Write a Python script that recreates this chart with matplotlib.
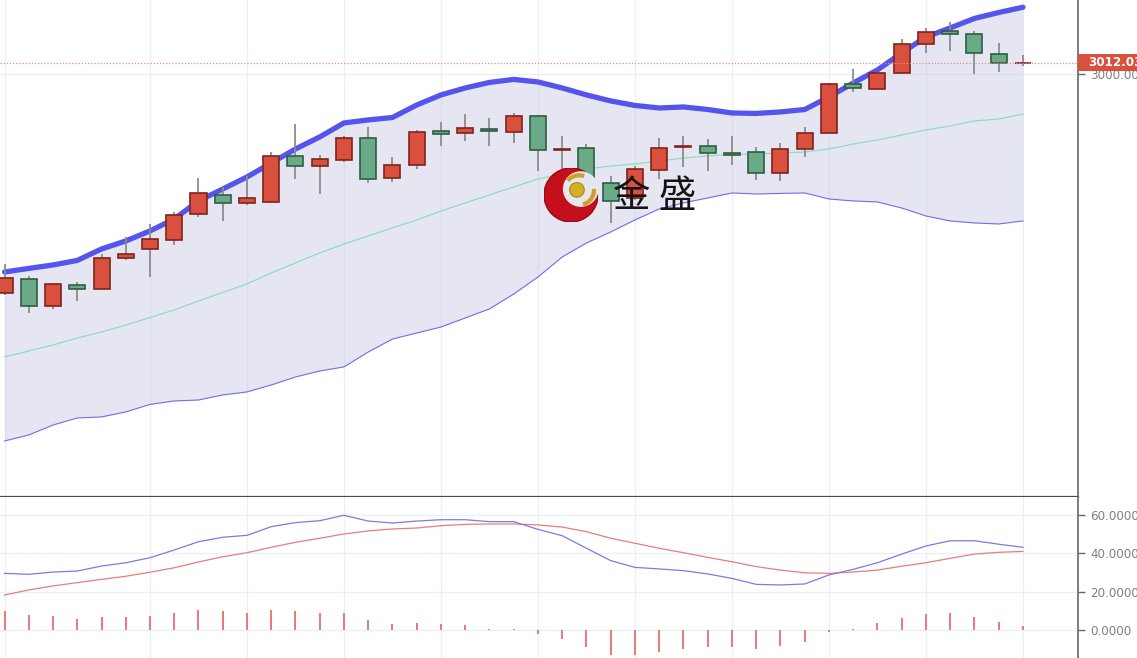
# %% Import packages
import matplotlib.pyplot as plt
import matplotlib.patches as mpatches
import matplotlib.transforms as mtransforms
import numpy as np

plt.rcParams['font.family'] = ['DejaVu Sans']

# %% Data (index = trading day)
opens = [2766.7, 2781.6, 2753.5, 2775.2, 2771.2, 2804.5, 2813.8, 2823.4, 2850.7, 2870.9,
         2862.8, 2864.1, 2912.8, 2902.1, 2908.5, 2931.6, 2889.7, 2903.2, 2939.4, 2936.9,
         2941.5, 2938.0, 2955.3, 2919.1, 2921.6, 2883.7, 2868.1, 2897.9, 2921.8, 2923.7,
         2916.0, 2917.0, 2894.4, 2920.2, 2936.9, 2989.7, 2983.7, 3000.8, 3032.2, 3045.4,
         3042.2, 3021.0, 3011.6]
highs = [2797.8, 2785.4, 2777.6, 2778.4, 2808.5, 2826.6, 2840.1, 2853.5, 2889.0, 2879.5,
         2891.5, 2917.3, 2946.5, 2913.8, 2934.0, 2943.9, 2911.4, 2940.4, 2949.2, 2957.4,
         2952.9, 2958.2, 2956.4, 2934.0, 2925.2, 2891.5, 2902.1, 2931.9, 2934.0, 2930.8,
         2934.0, 2922.7, 2926.3, 2943.9, 2990.4, 3005.6, 3002.5, 3036.9, 3049.3, 3055.0,
         3045.8, 3032.7, 3020.2]
lows = [2764.9, 2745.4, 2749.6, 2758.8, 2770.2, 2802.1, 2784.3, 2818.1, 2848.2, 2843.6,
        2860.6, 2863.1, 2888.3, 2872.0, 2906.7, 2883.7, 2885.4, 2898.6, 2923.4, 2928.7,
        2923.4, 2926.3, 2896.8, 2898.6, 2876.6, 2841.2, 2865.9, 2888.6, 2901.4, 2897.1,
        2903.2, 2887.2, 2886.2, 2912.0, 2936.7, 2981.2, 2983.3, 3000.0, 3022.0, 3024.8,
        3000.0, 3002.5, 3008.5]
closes = [2782.6, 2753.2, 2776.2, 2771.2, 2803.9, 2808.5, 2824.1, 2850.0, 2873.1, 2863.1,
          2868.1, 2912.8, 2902.1, 2909.2, 2931.6, 2888.3, 2903.5, 2938.3, 2935.8, 2942.9,
          2939.0, 2955.3, 2918.8, 2920.2, 2883.0, 2865.2, 2898.9, 2921.6, 2922.9, 2915.6,
          2913.5, 2894.4, 2920.2, 2937.2, 2989.4, 2985.1, 3000.8, 3032.2, 3044.4, 3042.2,
          3022.0, 3012.0, 3012.03]

boll_upper = [2789.3, 2793.1, 2796.8, 2801.6, 2813.8, 2822.3, 2833.0, 2845.7, 2864.9, 2877.6,
              2890.4, 2905.3, 2920.2, 2933.0, 2947.9, 2951.1, 2953.7, 2967.0, 2977.7, 2985.1,
              2991.0, 2994.2, 2991.5, 2985.1, 2977.7, 2971.3, 2966.5, 2963.8, 2964.9, 2962.2,
              2958.5, 2958.0, 2959.6, 2962.2, 2975.5, 2990.4, 3004.3, 3022.4, 3039.4, 3049.0,
              3059.1, 3065.4, 3071.0]
boll_mid = [2698.9, 2705.3, 2711.7, 2719.1, 2725.5, 2732.9, 2740.9, 2748.9, 2758.5, 2767.5,
            2776.6, 2788.3, 2798.9, 2809.6, 2819.1, 2827.6, 2836.2, 2844.7, 2854.2, 2862.8,
            2871.3, 2879.8, 2888.3, 2893.6, 2898.9, 2902.1, 2904.2, 2907.4, 2910.6, 2912.8,
            2914.4, 2914.9, 2916.0, 2917.0, 2920.2, 2925.5, 2929.8, 2935.1, 2940.4, 2944.7,
            2950.0, 2952.1, 2957.4]
boll_lower = [2609.5, 2615.9, 2626.5, 2634.0, 2635.1, 2640.4, 2648.4, 2652.1, 2653.1, 2658.5,
              2661.7, 2669.1, 2677.6, 2684.0, 2688.3, 2704.2, 2718.0, 2724.4, 2730.8, 2740.4,
              2750.0, 2765.9, 2784.0, 2805.3, 2820.2, 2831.9, 2844.7, 2856.4, 2862.8, 2868.1,
              2873.4, 2872.3, 2872.9, 2873.4, 2867.0, 2864.9, 2863.8, 2857.4, 2848.9, 2843.6,
              2841.5, 2840.4, 2843.6]

# lower panel indicator
ind_fast = [29.5, 29.0, 30.2, 30.7, 33.3, 35.0, 37.6, 41.6, 45.9, 48.2,
            49.2, 53.7, 55.8, 56.8, 59.6, 56.6, 55.6, 56.6, 57.3, 57.3,
            56.3, 56.3, 52.3, 49.0, 42.5, 36.1, 32.6, 31.8, 30.9, 29.2,
            26.9, 23.8, 23.5, 24.0, 28.7, 31.6, 35.0, 39.5, 43.7, 46.4,
            46.4, 44.6, 43.0]
ind_slow = [18.3, 20.9, 23.0, 24.7, 26.4, 28.0, 30.1, 32.4, 35.4, 38.1,
            40.2, 43.0, 45.6, 47.7, 49.9, 51.5, 52.5, 53.0, 54.2, 54.9,
            55.1, 55.1, 54.6, 53.5, 51.1, 47.7, 45.1, 42.5, 40.2, 37.8,
            35.5, 33.0, 31.2, 29.8, 29.5, 30.2, 31.2, 33.2, 35.0, 37.3,
            39.5, 40.4, 40.9]
ind_hist = [10.2, 7.9, 7.4, 5.9, 6.9, 6.9, 7.4, 9.0, 10.5, 10.2,
            9.0, 10.5, 10.2, 9.0, 9.0, 5.3, 3.1, 3.6, 3.1, 2.6,
            0.8, 0.8, -2.0, -4.5, -8.8, -12.6, -12.6, -11.1, -9.5, -8.8,
            -8.8, -9.5, -8.3, -6.2, -1.0, 0.7, 3.6, 6.4, 8.4, 9.1,
            6.9, 4.3, 2.1]

last_price = 3012.03
price_ticks = [3000]
ind_ticks = [0, 20, 40, 60]
grid_days = [0, 6, 10, 14, 18, 22, 26, 30, 34, 38, 42]

# %% Figure layout
W, H = 1137, 658
fig = plt.figure(figsize=(W / 100, H / 100), dpi=100)
ax = fig.add_axes([0, 161 / H, 1078 / W, 497 / H])
ax2 = fig.add_axes([0, 0, 1078 / W, 161 / H], sharex=ax)

x = np.arange(len(closes))
o = np.array(opens)
c = np.array(closes)
up = c >= o

grid_col = '#e9f0f6'
for a in (ax, ax2):
    a.set_axisbelow(True)
    a.set_xticks(grid_days)
    a.grid(True, color=grid_col, lw=1)
    a.tick_params(axis='x', length=0, labelbottom=False)
    a.yaxis.tick_right()
    a.tick_params(axis='y', length=5, width=1, color='#666666',
                  labelcolor='#808080', labelsize=8.6, pad=4)
    for s in ('top', 'left', 'bottom'):
        a.spines[s].set_visible(False)
    a.spines['right'].set_color('#666666')
    a.spines['right'].set_linewidth(1.2)
ax.spines['bottom'].set_visible(True)
ax.spines['bottom'].set_color('#4a4a4a')
ax.spines['bottom'].set_linewidth(1.6)

# %% Price panel
ax.fill_between(x, boll_lower, boll_upper, color='#b9b9dd', alpha=0.35, lw=0, zorder=1)
ax.plot(x, boll_mid, color='#8fdcc0', lw=0.9, zorder=2)
ax.plot(x, boll_lower, color='#7070ee', lw=0.8, zorder=2)
ax.plot(x, boll_upper, color='#5555ee', lw=3.8, solid_capstyle='round', zorder=2)

ax.vlines(x, lows, highs, color='#8c8c8c', lw=1.3, zorder=3)
body_col = np.where(up, '#d9503f', '#6aaa86')
edge_col = np.where(up, '#80241c', '#2f5d44')
ax.bar(x, c - o, bottom=o, width=0.66, color=body_col, edgecolor=edge_col,
       linewidth=1.2, zorder=4)

ax.axhline(last_price, color='#ee8a8a', lw=0.9, ls=(0, (1, 1.5)), zorder=5)
ax.set_yticks(price_ticks)
ax.set_yticklabels([f'{v:.2f}' for v in price_ticks])
ax.set_ylim(2549.9, 3078.7)
ax.set_xlim(-0.186, 44.27)

# last price tag
trans = mtransforms.blended_transform_factory(ax.transAxes, ax.transData)
k = (3078.7 - 2549.9) / 497
ax.add_patch(mpatches.Rectangle((1.0, last_price - 8.5 * k), 0.06, 17 * k,
                                transform=trans, clip_on=False,
                                fc='#d9503f', ec='none', zorder=10))
ax.text(1.0 + 10 / 1078, last_price, f'{last_price:.2f}', transform=trans,
        ha='left', va='center', color='white', fontsize=8.6, fontweight='bold',
        clip_on=False, zorder=11)

# %% Indicator panel
ax2.vlines(x, 0, ind_hist, color='#e87878', lw=1.4, zorder=3)
ax2.plot(x, ind_slow, color='#ee7b7b', lw=0.9, zorder=4)
ax2.plot(x, ind_fast, color='#7b7be6', lw=0.9, zorder=4)
ax2.set_yticks(ind_ticks)
ax2.set_yticklabels([f'{v:.4f}' for v in ind_ticks])
ax2.set_ylim(-14.35, 69.07)

# %% Watermark
lg = fig.add_axes([544 / W, (H - 222) / H, 54 / W, 54 / H])
lg.set_xlim(-1, 1)
lg.set_ylim(-1, 1)
lg.set_aspect('equal')
lg.axis('off')
lg.add_patch(mpatches.Circle((0, 0), 1.0, fc='#c4101c', ec='#9a0a12', lw=1))
lg.add_patch(mpatches.Circle((0.36, 0.22), 0.66, fc='#e6e6f0', ec='none'))
lg.add_patch(mpatches.Arc((0.3, 0.18), 1.1, 1.1, theta1=-75, theta2=5, color='#c9a227', lw=3))
lg.add_patch(mpatches.Arc((0.3, 0.18), 1.1, 1.1, theta1=70, theta2=140, color='#c9a227', lw=3))
lg.add_patch(mpatches.Circle((0.22, 0.19), 0.27, fc='#d4b022', ec='#a88418', lw=0.8))

fig.text(655 / W, 1 - 197 / H, '金 盛', ha='center', va='center', fontsize=27,
         color='#141414', family=['Noto Sans CJK SC', 'DejaVu Sans'])

plt.savefig('out.png', dpi=100)
